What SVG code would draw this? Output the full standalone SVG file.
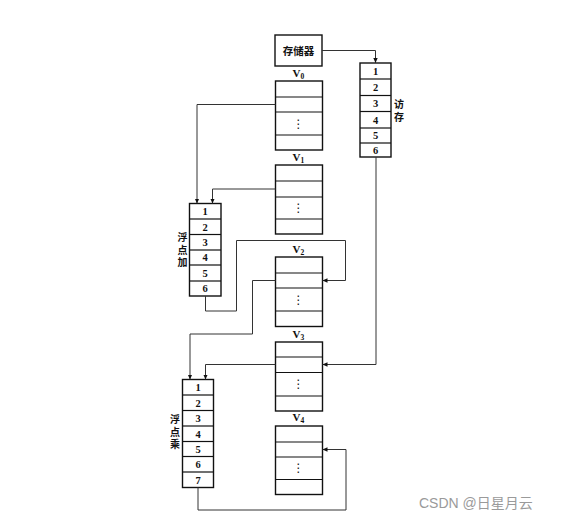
<svg xmlns="http://www.w3.org/2000/svg" width="567" height="520" viewBox="0 0 567 520">
<style>
.box{fill:#fff;stroke:#111;stroke-width:1.4}
.sep{stroke:#111;stroke-width:1.2}
.num{font-family:"Liberation Serif",serif;font-size:10.5px;font-weight:bold;fill:#111;text-anchor:middle;dominant-baseline:central}
.cjk{font-family:"Noto Sans CJK SC","Noto Sans CJK JP",sans-serif;font-size:10.5px;font-weight:bold;fill:#111;text-anchor:middle;dominant-baseline:central}
.vert{font-family:"Noto Sans CJK SC","Noto Sans CJK JP",sans-serif;font-size:10px;font-weight:bold;fill:#111;text-anchor:middle;writing-mode:vertical-rl;letter-spacing:2.5px}
.vl{font-family:"Liberation Serif",serif;font-size:11px;font-weight:bold;fill:#111}
.sub{font-size:7.5px}
.dots{font-family:"DejaVu Sans",sans-serif;font-size:12px;fill:#111;text-anchor:middle;dominant-baseline:central}
.conn{fill:none;stroke:#333;stroke-width:1}
.wm{font-family:"Liberation Sans","Noto Sans CJK SC",sans-serif;font-size:14px;fill:#9a9a9a}
</style>
<defs>
<marker id="arr" markerUnits="userSpaceOnUse" markerWidth="6" markerHeight="6" refX="5" refY="3" orient="auto">
<path d="M0,0.8 L5,3 L0,5.2 Z" fill="#111"/>
</marker>
</defs>

<g id="memory">
<rect class="box" x="275" y="35" width="47" height="31"/>
<text class="cjk" x="298.5" y="50.5">存储器</text>
</g>

<g id="fangcun">
<rect class="box" x="360" y="63" width="31" height="94"/>
<line class="sep" x1="360" y1="79" x2="391" y2="79"/>
<line class="sep" x1="360" y1="95.5" x2="391" y2="95.5"/>
<line class="sep" x1="360" y1="111.5" x2="391" y2="111.5"/>
<line class="sep" x1="360" y1="128" x2="391" y2="128"/>
<line class="sep" x1="360" y1="143" x2="391" y2="143"/>
<text class="num" x="375.5" y="71.5">1</text>
<text class="num" x="375.5" y="87.5">2</text>
<text class="num" x="375.5" y="103.5">3</text>
<text class="num" x="375.5" y="120">4</text>
<text class="num" x="375.5" y="135.5">5</text>
<text class="num" x="375.5" y="150">6</text>
<text class="vert" x="399" y="112">访存</text>
</g>

<g id="v0">
<text class="vl" x="292.5" y="77">V<tspan class="sub" dy="2">0</tspan></text>
<rect class="box" x="275.5" y="81" width="47" height="69"/>
<line class="sep" x1="275.5" y1="97" x2="322.5" y2="97"/>
<line class="sep" x1="275.5" y1="112" x2="322.5" y2="112"/>
<line class="sep" x1="275.5" y1="135" x2="322.5" y2="135"/>
<text class="dots" x="298.5" y="123.5">⋮</text>
</g>

<g id="v1">
<text class="vl" x="292.5" y="161">V<tspan class="sub" dy="2">1</tspan></text>
<rect class="box" x="275.5" y="165" width="47" height="69"/>
<line class="sep" x1="275.5" y1="181" x2="322.5" y2="181"/>
<line class="sep" x1="275.5" y1="197" x2="322.5" y2="197"/>
<line class="sep" x1="275.5" y1="219" x2="322.5" y2="219"/>
<text class="dots" x="298.5" y="208">⋮</text>
</g>

<g id="v2">
<text class="vl" x="292.5" y="253">V<tspan class="sub" dy="2">2</tspan></text>
<rect class="box" x="275.5" y="257" width="47" height="69.5"/>
<line class="sep" x1="275.5" y1="273" x2="322.5" y2="273"/>
<line class="sep" x1="275.5" y1="288" x2="322.5" y2="288"/>
<line class="sep" x1="275.5" y1="311" x2="322.5" y2="311"/>
<text class="dots" x="298.5" y="299.5">⋮</text>
</g>

<g id="v3">
<text class="vl" x="292.5" y="338">V<tspan class="sub" dy="2">3</tspan></text>
<rect class="box" x="275.5" y="342" width="47" height="69"/>
<line class="sep" x1="275.5" y1="357" x2="322.5" y2="357"/>
<line class="sep" x1="275.5" y1="372.5" x2="322.5" y2="372.5"/>
<line class="sep" x1="275.5" y1="396" x2="322.5" y2="396"/>
<text class="dots" x="298.5" y="384">⋮</text>
</g>

<g id="v4">
<text class="vl" x="292.5" y="421">V<tspan class="sub" dy="2">4</tspan></text>
<rect class="box" x="275.5" y="426" width="47" height="68.5"/>
<line class="sep" x1="275.5" y1="442" x2="322.5" y2="442"/>
<line class="sep" x1="275.5" y1="457" x2="322.5" y2="457"/>
<line class="sep" x1="275.5" y1="479.5" x2="322.5" y2="479.5"/>
<text class="dots" x="298.5" y="468">⋮</text>
</g>

<g id="fpadd">
<rect class="box" x="189.5" y="203.5" width="31.5" height="92.5"/>
<line class="sep" x1="189.5" y1="219" x2="221" y2="219"/>
<line class="sep" x1="189.5" y1="234.5" x2="221" y2="234.5"/>
<line class="sep" x1="189.5" y1="250" x2="221" y2="250"/>
<line class="sep" x1="189.5" y1="265" x2="221" y2="265"/>
<line class="sep" x1="189.5" y1="281" x2="221" y2="281"/>
<text class="num" x="205.2" y="211.5">1</text>
<text class="num" x="205.2" y="227">2</text>
<text class="num" x="205.2" y="242.5">3</text>
<text class="num" x="205.2" y="257.5">4</text>
<text class="num" x="205.2" y="273">5</text>
<text class="num" x="205.2" y="288.5">6</text>
<text class="vert" x="182.5" y="251">浮点加</text>
</g>

<g id="fpmul">
<rect class="box" x="182.5" y="379.5" width="31" height="108"/>
<line class="sep" x1="182.5" y1="395" x2="213.5" y2="395"/>
<line class="sep" x1="182.5" y1="410.5" x2="213.5" y2="410.5"/>
<line class="sep" x1="182.5" y1="426" x2="213.5" y2="426"/>
<line class="sep" x1="182.5" y1="441.5" x2="213.5" y2="441.5"/>
<line class="sep" x1="182.5" y1="456.5" x2="213.5" y2="456.5"/>
<line class="sep" x1="182.5" y1="472" x2="213.5" y2="472"/>
<text class="num" x="198" y="387.5">1</text>
<text class="num" x="198" y="403">2</text>
<text class="num" x="198" y="418.5">3</text>
<text class="num" x="198" y="434">4</text>
<text class="num" x="198" y="449.5">5</text>
<text class="num" x="198" y="464.5">6</text>
<text class="num" x="198" y="480">7</text>
<text class="vert" x="175" y="433">浮点乘</text>
</g>

<g id="connectors">
<path class="conn" d="M322,50.5 H375.5 V63" marker-end="url(#arr)"/>
<path class="conn" d="M275.5,104.5 H197 V203.5" marker-end="url(#arr)"/>
<path class="conn" d="M275.5,189 H212.5 V203.5" marker-end="url(#arr)"/>
<path class="conn" d="M205.5,296 V311 H236.5 V240.5 H345.5 V280.5 H322.5" marker-end="url(#arr)"/>
<path class="conn" d="M275.5,280.5 H252.5 V334 H190 V379.5" marker-end="url(#arr)"/>
<path class="conn" d="M376,157 V364.5 H322.5" marker-end="url(#arr)"/>
<path class="conn" d="M275.5,364.5 H205.5 V379.5" marker-end="url(#arr)"/>
<path class="conn" d="M198,487.5 V510 H346 V449.5 H322.5" marker-end="url(#arr)"/>
</g>

<text class="wm" x="419" y="508">CSDN @日星月云</text>
</svg>
